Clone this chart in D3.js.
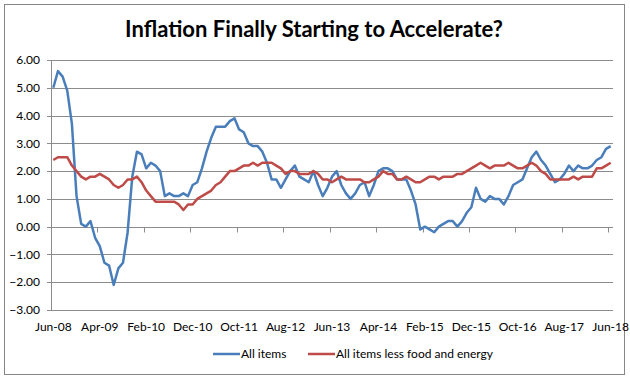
<!DOCTYPE html>
<html>
<head>
<meta charset="utf-8">
<script src="https://cdn.jsdelivr.net/npm/d3@7"></script>
<style>
  body { margin: 0; background: #fff; }
  text { font-family: Lato, "Open Sans", sans-serif; fill: #000; }
</style>
</head>
<body>
<div id="chart"></div>
<script>
// CPI, percent change from a year ago, monthly Jun-08 .. Jun-18
var allItems = [
  5.0, 5.6, 5.4, 4.9, 3.7, 1.1, 0.1,                          // 2008 Jun-Dec
  0.0, 0.2, -0.4, -0.7, -1.3, -1.4, -2.1, -1.5, -1.3, -0.2, 1.8, 2.7, // 2009
  2.6, 2.1, 2.3, 2.2, 2.0, 1.1, 1.2, 1.1, 1.1, 1.2, 1.1, 1.5, // 2010
  1.6, 2.1, 2.7, 3.2, 3.6, 3.6, 3.6, 3.8, 3.9, 3.5, 3.4, 3.0, // 2011
  2.9, 2.9, 2.7, 2.3, 1.7, 1.7, 1.4, 1.7, 2.0, 2.2, 1.8, 1.7, // 2012
  1.6, 2.0, 1.5, 1.1, 1.4, 1.8, 2.0, 1.5, 1.2, 1.0, 1.2, 1.5, // 2013
  1.6, 1.1, 1.5, 2.0, 2.1, 2.1, 2.0, 1.7, 1.7, 1.7, 1.3, 0.8, // 2014
  -0.1, 0.0, -0.1, -0.2, 0.0, 0.1, 0.2, 0.2, 0.0, 0.2, 0.5, 0.7, // 2015
  1.4, 1.0, 0.9, 1.1, 1.0, 1.0, 0.8, 1.1, 1.5, 1.6, 1.7, 2.1, // 2016
  2.5, 2.7, 2.4, 2.2, 1.9, 1.6, 1.7, 1.9, 2.2, 2.0, 2.2, 2.1, // 2017
  2.1, 2.2, 2.4, 2.5, 2.8, 2.9                                // 2018 Jan-Jun
];
var lessFoodEnergy = [
  2.4, 2.5, 2.5, 2.5, 2.2, 2.0, 1.8,
  1.7, 1.8, 1.8, 1.9, 1.8, 1.7, 1.5, 1.4, 1.5, 1.7, 1.7, 1.8,
  1.6, 1.3, 1.1, 0.9, 0.9, 0.9, 0.9, 0.9, 0.8, 0.6, 0.8, 0.8,
  1.0, 1.1, 1.2, 1.3, 1.5, 1.6, 1.8, 2.0, 2.0, 2.1, 2.2, 2.2,
  2.3, 2.2, 2.3, 2.3, 2.3, 2.2, 2.1, 1.9, 2.0, 2.0, 1.9, 1.9,
  1.9, 2.0, 1.9, 1.7, 1.7, 1.6, 1.7, 1.8, 1.7, 1.7, 1.7, 1.7,
  1.6, 1.6, 1.7, 1.8, 2.0, 1.9, 1.9, 1.7, 1.7, 1.8, 1.7, 1.6,
  1.6, 1.7, 1.8, 1.8, 1.7, 1.8, 1.8, 1.8, 1.9, 1.9, 2.0, 2.1,
  2.2, 2.3, 2.2, 2.1, 2.2, 2.2, 2.2, 2.3, 2.2, 2.1, 2.1, 2.2,
  2.3, 2.2, 2.0, 1.9, 1.7, 1.7, 1.7, 1.7, 1.7, 1.8, 1.7, 1.8,
  1.8, 1.8, 2.1, 2.1, 2.2, 2.3
];
var tickLabels = ["Jun-08", "Apr-09", "Feb-10", "Dec-10", "Oct-11", "Aug-12", "Jun-13",
                  "Apr-14", "Feb-15", "Dec-15", "Oct-16", "Aug-17", "Jun-18"];
var yTicks = [6, 5, 4, 3, 2, 1, 0, -1, -2, -3];
var seriesNames = ["All items", "All items less food and energy"];
var seriesColors = ["#4a7ebb", "#be4b48"];

var width = 630, height = 376;
var plot = {left: 51, right: 613, top: 60, bottom: 310};
var labelEvery = 10;

var svg = d3.select("#chart").append("svg")
    .attr("width", width)
    .attr("height", height);

// outer frame
svg.append("rect")
    .attr("x", 4.5).attr("y", 4.5)
    .attr("width", 620).attr("height", 370)
    .attr("fill", "#fff")
    .attr("stroke", "#868686")
    .attr("stroke-width", 1);

var x = d3.scaleBand()
    .domain(d3.range(allItems.length))
    .range([plot.left, plot.right]);
var bw = x.bandwidth();
function cx(i) { return x(i) + bw / 2; }

var y = d3.scaleLinear()
    .domain([-3, 6])
    .range([plot.bottom, plot.top]);

// gridlines
svg.append("g")
    .selectAll("line")
    .data(yTicks)
    .enter().append("line")
    .attr("x1", plot.left - 4)
    .attr("x2", plot.right)
    .attr("y1", function(d) { return Math.round(y(d)) + 0.5; })
    .attr("y2", function(d) { return Math.round(y(d)) + 0.5; })
    .attr("stroke", "#8c8c8c")
    .attr("stroke-width", 1);

// y axis line + labels
svg.append("line")
    .attr("x1", plot.left + 0.5).attr("x2", plot.left + 0.5)
    .attr("y1", plot.top).attr("y2", plot.bottom)
    .attr("stroke", "#8c8c8c");

svg.append("g")
    .selectAll("text")
    .data(yTicks)
    .enter().append("text")
    .attr("x", 40)
    .attr("y", function(d) { return y(d); })
    .attr("dy", "0.35em")
    .attr("text-anchor", "end")
    .style("font-size", "12px")
    .text(function(d) { return d3.format(".2f")(d); });

// category axis crosses at zero, labels sit low
var zeroY = Math.round(y(0)) + 0.5;
svg.append("g")
    .selectAll("line")
    .data(d3.range(labelEvery, allItems.length, labelEvery))
    .enter().append("line")
    .attr("x1", function(d) { return Math.round(x(d)) + 0.5; })
    .attr("x2", function(d) { return Math.round(x(d)) + 0.5; })
    .attr("y1", zeroY)
    .attr("y2", zeroY + 5)
    .attr("stroke", "#8c8c8c");

svg.append("g")
    .selectAll("text")
    .data(tickLabels)
    .enter().append("text")
    .attr("x", function(d, i) { return cx(i * labelEvery); })
    .attr("y", 331)
    .attr("text-anchor", "middle")
    .style("font-size", "12px")
    .text(function(d) { return d; });

// lines
var line = d3.line()
    .x(function(d, i) { return cx(i); })
    .y(function(d) { return y(d); });

[allItems, lessFoodEnergy].forEach(function(s, k) {
    svg.append("path")
        .datum(s)
        .attr("fill", "none")
        .attr("stroke", seriesColors[k])
        .attr("stroke-width", 2.5)
        .attr("stroke-linejoin", "round")
        .attr("d", line);
});

// title
svg.append("text")
    .attr("x", 314)
    .attr("y", 37)
    .attr("text-anchor", "middle")
    .style("font-size", "22px")
    .style("font-weight", "bold")
    .text("Inflation Finally Starting to Accelerate?");

// legend
var legendX = [213, 308];
var legend = svg.append("g")
    .selectAll("g")
    .data(seriesNames)
    .enter().append("g")
    .attr("transform", function(d, i) { return "translate(" + legendX[i] + ",354)"; });

legend.append("line")
    .attr("x1", 0).attr("x2", 27)
    .attr("stroke", function(d, i) { return seriesColors[i]; })
    .attr("stroke-width", 2.5);

legend.append("text")
    .attr("x", 28)
    .attr("dy", "0.35em")
    .style("font-size", "12px")
    .text(function(d) { return d; });
</script>
</body>
</html>
